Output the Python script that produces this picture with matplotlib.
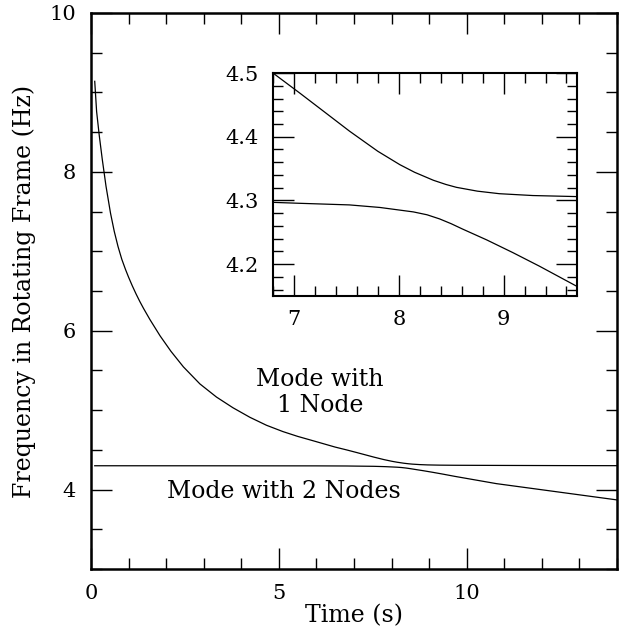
import numpy as np
import matplotlib
matplotlib.use("Agg")
import matplotlib.pyplot as plt
from matplotlib.ticker import MultipleLocator

plt.rcParams["font.family"] = ["DejaVu Serif"]

# mode with 1 node (upper branch)
t_one = [0.1, 0.15, 0.22, 0.30, 0.40, 0.52, 0.62, 0.72, 0.82, 0.92, 1.0,
         1.1, 1.2, 1.3, 1.4, 1.57, 1.84, 2.13, 2.46, 2.90, 3.34, 3.78, 4.23,
         4.67, 5.11, 5.5, 5.91, 6.5, 6.8, 7.06, 7.3, 7.53, 7.8, 8.01, 8.15,
         8.33, 8.45, 8.55, 8.75, 8.96, 9.28, 9.69, 11.0, 12.5, 14.0]
f_one = [9.14, 8.76, 8.46, 8.16, 7.82, 7.48, 7.25, 7.06, 6.90, 6.77, 6.675,
         6.565, 6.463, 6.368, 6.28, 6.14, 5.935, 5.74, 5.545, 5.33, 5.165,
         5.03, 4.91, 4.81, 4.73, 4.67, 4.615, 4.535, 4.50, 4.468, 4.4378,
         4.4088, 4.3772, 4.3562, 4.3443, 4.3317, 4.3251, 4.3206, 4.3146,
         4.3106, 4.3077, 4.3061, 4.304, 4.302, 4.301]

# mode with 2 nodes (lower branch)
t_two = [0.1, 3.0, 6.0, 6.8, 7.06, 7.53, 7.82, 8.14, 8.27, 8.39, 8.5, 8.61,
         8.84, 9.09, 9.34, 9.69, 10.79, 12.2, 14.0]
f_two = [4.30, 4.2995, 4.2985, 4.297, 4.2955, 4.293, 4.289, 4.282, 4.2775,
         4.271, 4.2635, 4.255, 4.238, 4.218, 4.197, 4.166, 4.075, 3.985, 3.87]

fs = 15
fl = 17

fig = plt.figure(figsize=(6.3, 6.34), dpi=100)
ax = fig.add_axes([0.1444, 0.1025, 0.8349, 0.877])

ax.plot(t_one, f_one, color="black", lw=0.9)
ax.plot(t_two, f_two, color="black", lw=0.9)

ax.set_xlim(0, 14)
ax.set_ylim(3, 10)
ax.xaxis.set_major_locator(MultipleLocator(5))
ax.xaxis.set_minor_locator(MultipleLocator(1))
ax.yaxis.set_major_locator(MultipleLocator(2))
ax.yaxis.set_minor_locator(MultipleLocator(0.5))
ax.tick_params(which="both", direction="in", top=True, right=True,
               labelsize=fs, width=1.0, pad=11)
ax.tick_params(which="major", length=15)
ax.tick_params(which="minor", length=8)
for s in ax.spines.values():
    s.set_linewidth(1.8)

ax.set_xlabel("Time (s)", fontsize=fl, labelpad=1)
ax.set_ylabel("Frequency in Rotating Frame (Hz)", fontsize=fl, labelpad=9)

ax.text(6.09, 5.22, "Mode with\n1 Node", fontsize=fl, ha="center",
        va="center", linespacing=1.15)
ax.text(5.13, 3.98, "Mode with 2 Nodes", fontsize=fl, ha="center",
        va="center")

# inset zoom on the avoided crossing
ins = fig.add_axes([0.4333, 0.5331, 0.4825, 0.3517])
ins.plot(t_one, f_one, color="black", lw=0.9)
ins.plot(t_two, f_two, color="black", lw=0.9)
ins.set_xlim(6.8, 9.7)
ins.set_ylim(4.15, 4.5)
ins.xaxis.set_major_locator(MultipleLocator(1))
ins.xaxis.set_minor_locator(MultipleLocator(0.2))
ins.yaxis.set_major_locator(MultipleLocator(0.1))
ins.yaxis.set_minor_locator(MultipleLocator(0.02))
ins.tick_params(which="both", direction="in", top=True, right=True,
                labelsize=fs, width=1.0, pad=10)
ins.tick_params(which="major", length=15)
ins.tick_params(which="minor", length=7.5)
for s in ins.spines.values():
    s.set_linewidth(1.5)

fig.savefig("out.png", dpi=100)
